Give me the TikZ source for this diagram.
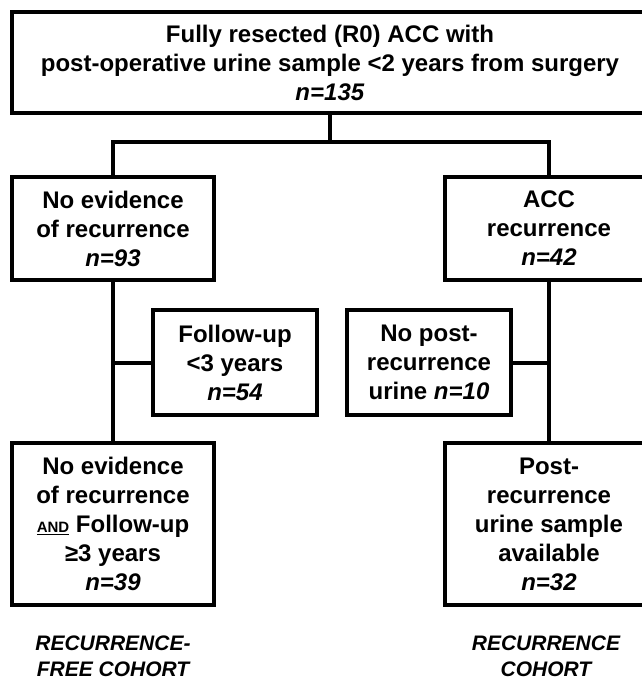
\documentclass[tikz,border=0pt]{standalone}
\usepackage{fontspec}
\setmainfont{Liberation Sans}
\tikzset{
  box/.style={draw, line width=4pt, align=center, inner sep=0pt,
    font=\bfseries\fontsize{24}{29}\selectfont},
  cohort/.style={align=center, font=\bfseries\itshape\fontsize{21}{26}\selectfont},
  link/.style={line width=4pt}
}
\newcommand{\nval}[1]{\textit{n=#1}}
\begin{document}
\begin{tikzpicture}[x=1pt,y=-1pt]
\useasboundingbox (0,0) rectangle (642,681);
\node [box, minimum width=636pt, minimum height=101pt] (total) at (330,62.5) {Fully resected (R0) ACC with\\post-operative urine sample <2 years from surgery\\\nval{135}};
\node [box, minimum width=202pt, minimum height=103pt] (noevid) at (113,228.5) {No evidence\\of recurrence\\\nval{93}};
\node [box, minimum width=208pt, minimum height=103pt] (accrec) at (549,228.5) {ACC\\recurrence\\\nval{42}};
\node [box, minimum width=164pt, minimum height=105pt] (follow) at (235,362.5) {Follow-up\\<3 years\\\nval{54}};
\node [box, minimum width=164pt, minimum height=105pt] (nopost) at (429,362.5) {No post-\\recurrence\\urine \nval{10}};
\node [box, minimum width=202pt, minimum height=162pt] (rfree) at (113,524) {No evidence\\of recurrence\\\underline{\fontsize{15}{15}\selectfont AND} Follow-up\\≥3 years\\\nval{39}};
\node [box, minimum width=208pt, minimum height=162pt] (postrec) at (549,524) {Post-\\recurrence\\urine sample\\available\\\nval{32}};
\node [cohort] (rfreelabel) at (113,656) {RECURRENCE-\\FREE COHORT};
\node [cohort] (postreclabel) at (546,656) {RECURRENCE\\COHORT};
% connectors
\coordinate (split) at (330,142);
\draw [link] (total) -- (split);
\draw [link] (split) -| (noevid);
\draw [link] (split) -| (accrec);
\draw [link] (noevid) -- (rfree);
\draw [link] (follow) -- (follow -| noevid);
\draw [link] (accrec) -- (postrec);
\draw [link] (nopost) -- (nopost -| accrec);
\end{tikzpicture}
\end{document}
